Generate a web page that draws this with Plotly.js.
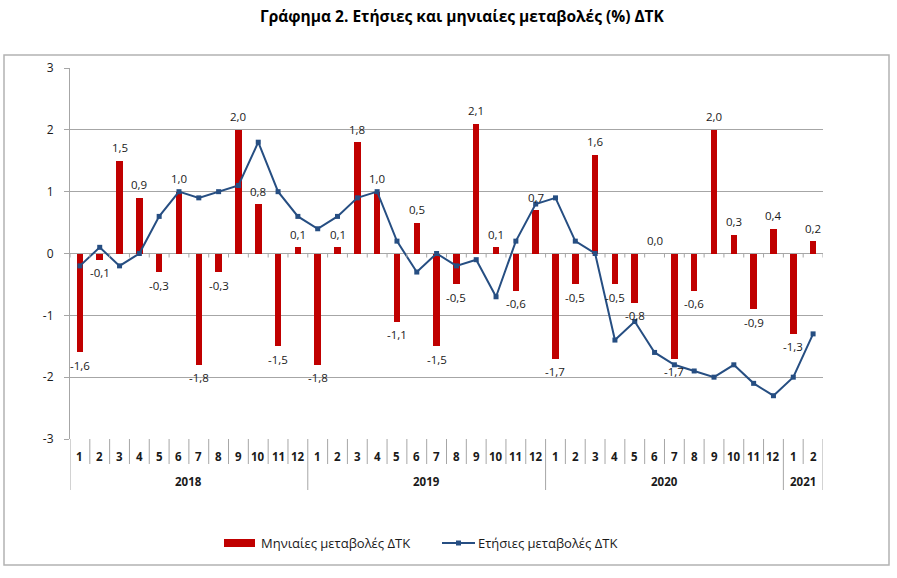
<!DOCTYPE html>
<html>
<head>
<meta charset="utf-8">
<script src="https://cdn.plot.ly/plotly-3.0.1.min.js"></script>
<style>html,body{margin:0;padding:0;background:#fff;}#chart{width:897px;height:578px;}</style>
</head>
<body>
<div id="chart"></div>
<script>
// ---- data ----
const years = ["2018", "2019", "2020", "2021"];
const monthsPerYear = [12, 12, 12, 2];
const monthly = [
  -1.6, -0.1, 1.5, 0.9, -0.3, 1.0, -1.8, -0.3, 2.0, 0.8, -1.5, 0.1,
  -1.8, 0.1, 1.8, 1.0, -1.1, 0.5, -1.5, -0.5, 2.1, 0.1, -0.6, 0.7,
  -1.7, -0.5, 1.6, -0.5, -0.8, 0.0, -1.7, -0.6, 2.0, 0.3, -0.9, 0.4,
  -1.3, 0.2
];
const annual = [
  -0.2, 0.1, -0.2, 0.0, 0.6, 1.0, 0.9, 1.0, 1.1, 1.8, 1.0, 0.6,
  0.4, 0.6, 0.9, 1.0, 0.2, -0.3, 0.0, -0.2, -0.1, -0.7, 0.2, 0.8,
  0.9, 0.2, 0.0, -1.4, -1.1, -1.6, -1.8, -1.9, -2.0, -1.8, -2.1, -2.3,
  -2.0, -1.3
];
const yTicks = [-3, -2, -1, 0, 1, 2, 3];
const yTickText = ["-3", "-2", "-1", "0", "1", "2", "3"];
const seriesNames = ["Μηνιαίες μεταβολές ΔΤΚ", "Ετήσιες μεταβολές ΔΤΚ"];
const titleText = "<b>Γράφημα 2. Ετήσιες και μηνιαίες μεταβολές (%) ΔΤΚ</b>";

// ---- derived ----
const monthLabels = [];
const yearOf = [];
years.forEach((y, yi) => { for (let m = 1; m <= monthsPerYear[yi]; m++) { monthLabels.push(String(m)); yearOf.push(y); } });
const idx = monthLabels.map((_, i) => i);
const N = idx.length;

const FONT = "Open Sans, Noto Sans, sans-serif";
const RED = "#c00000", BLUE = "#264e82", GRID = "#a6a6a6", TXT = "#1a1a1a";

// pixel helpers for decoration (plot area: x 70..823, y 68..439)
const L = 70, R = 74, T = 68, B = 139, W = 897 - L - R, H = 578 - T - B;
const px = p => (p - L) / W;
const py = p => (T + H - p) / H;

const shapes = [];
const annotations = [];

// zero-line ticks at category boundaries
for (let i = 0; i <= N; i++) {
  shapes.push({type: "line", xref: "x", yref: "y", ysizemode: "pixel", yanchor: 0,
    x0: i - 0.5, x1: i - 0.5, y0: 0, y1: -4, line: {color: GRID, width: 1}});
}
// category separators below axis
let bounds = new Set([-0.5]);
let acc = 0;
monthsPerYear.forEach(n => { acc += n; bounds.add(acc - 0.5); });
for (let i = 0; i <= N; i++) {
  const b = i - 0.5;
  const len = bounds.has(b) ? 51 : 25;
  shapes.push({type: "line", xref: "x", yref: "paper", ysizemode: "pixel", yanchor: 0,
    x0: b, x1: b, y0: 0, y1: -len, line: {color: GRID, width: 1}});
}
// month labels
idx.forEach(i => annotations.push({x: i, y: 0, xref: "x", yref: "paper", yshift: -17, yanchor: "middle", showarrow: false,
  text: "<b>" + monthLabels[i] + "</b>", font: {family: FONT, size: 11.5, color: TXT}}));
// year labels
acc = 0;
years.forEach((y, yi) => {
  const c = acc + (monthsPerYear[yi] - 1) / 2; acc += monthsPerYear[yi];
  annotations.push({x: c, y: 0, xref: "x", yref: "paper", yshift: -42, yanchor: "middle", showarrow: false,
    text: "<b>" + y + "</b>", font: {family: FONT, size: 11.5, color: TXT}});
});
// bar value labels
monthly.forEach((v, i) => annotations.push({x: i, y: v, xref: "x", yref: "y", yshift: v >= 0 ? 13 : -13,
  yanchor: "middle", showarrow: false, text: v.toFixed(1).replace(".", ","), font: {family: FONT, size: 11.5, color: TXT}}));

// outer frame
shapes.push({type: "rect", xref: "paper", yref: "paper", x0: px(4), x1: px(889), y0: py(565), y1: py(55),
  line: {color: "#b3b3b3", width: 1.5}, layer: "below"});
// legend
shapes.push({type: "rect", xref: "paper", yref: "paper", x0: px(224), x1: px(255), y0: py(547), y1: py(539),
  fillcolor: RED, line: {width: 0}});
annotations.push({x: px(259), y: py(543), xref: "paper", yref: "paper", xanchor: "left", yanchor: "middle", showarrow: false,
  text: seriesNames[0], font: {family: FONT, size: 13, color: TXT}});
shapes.push({type: "line", xref: "paper", yref: "paper", x0: px(442), x1: px(475), y0: py(543), y1: py(543),
  line: {color: BLUE, width: 2}});
shapes.push({type: "rect", xref: "paper", yref: "paper", x0: px(456), x1: px(461), y0: py(545.5), y1: py(540.5),
  fillcolor: BLUE, line: {width: 0}});
annotations.push({x: px(476), y: py(543), xref: "paper", yref: "paper", xanchor: "left", yanchor: "middle", showarrow: false,
  text: seriesNames[1], font: {family: FONT, size: 13, color: TXT}});

const traces = [
  {type: "bar", x: idx, y: monthly, name: seriesNames[0], marker: {color: RED}, width: 0.33, hoverinfo: "y"},
  {type: "scatter", mode: "lines+markers", x: idx, y: annual, name: seriesNames[1],
    line: {color: BLUE, width: 2}, marker: {symbol: "square", size: 5, color: BLUE}, hoverinfo: "y"}
];

const layout = {
  width: 897, height: 578,
  margin: {l: L, r: R, t: T, b: B},
  paper_bgcolor: "#fff", plot_bgcolor: "#fff",
  showlegend: false,
  font: {family: FONT, color: TXT},
  title: {text: titleText, x: 0.515, xref: "container", xanchor: "center", y: 1 - 17 / 578, yref: "container", yanchor: "middle",
    font: {family: FONT, size: 15.5, color: "#000"}},
  xaxis: {range: [-0.5, N - 0.5], showticklabels: false, showgrid: false, zeroline: false, showline: false, ticks: "", fixedrange: true},
  yaxis: {range: [-3, 3], tickmode: "array", tickvals: yTicks, ticktext: yTickText,
    showgrid: true, gridcolor: GRID, gridwidth: 1, zeroline: true, zerolinecolor: GRID, zerolinewidth: 1,
    showline: true, linecolor: GRID, linewidth: 1, ticks: "outside", ticklen: 5, tickcolor: GRID,
    ticklabelstandoff: 8, tickfont: {family: FONT, size: 12, color: TXT}, fixedrange: true},
  shapes: shapes,
  annotations: annotations,
  bargap: 0
};

Plotly.newPlot("chart", traces, layout, {displayModeBar: false, staticPlot: true});
</script>
</body>
</html>
